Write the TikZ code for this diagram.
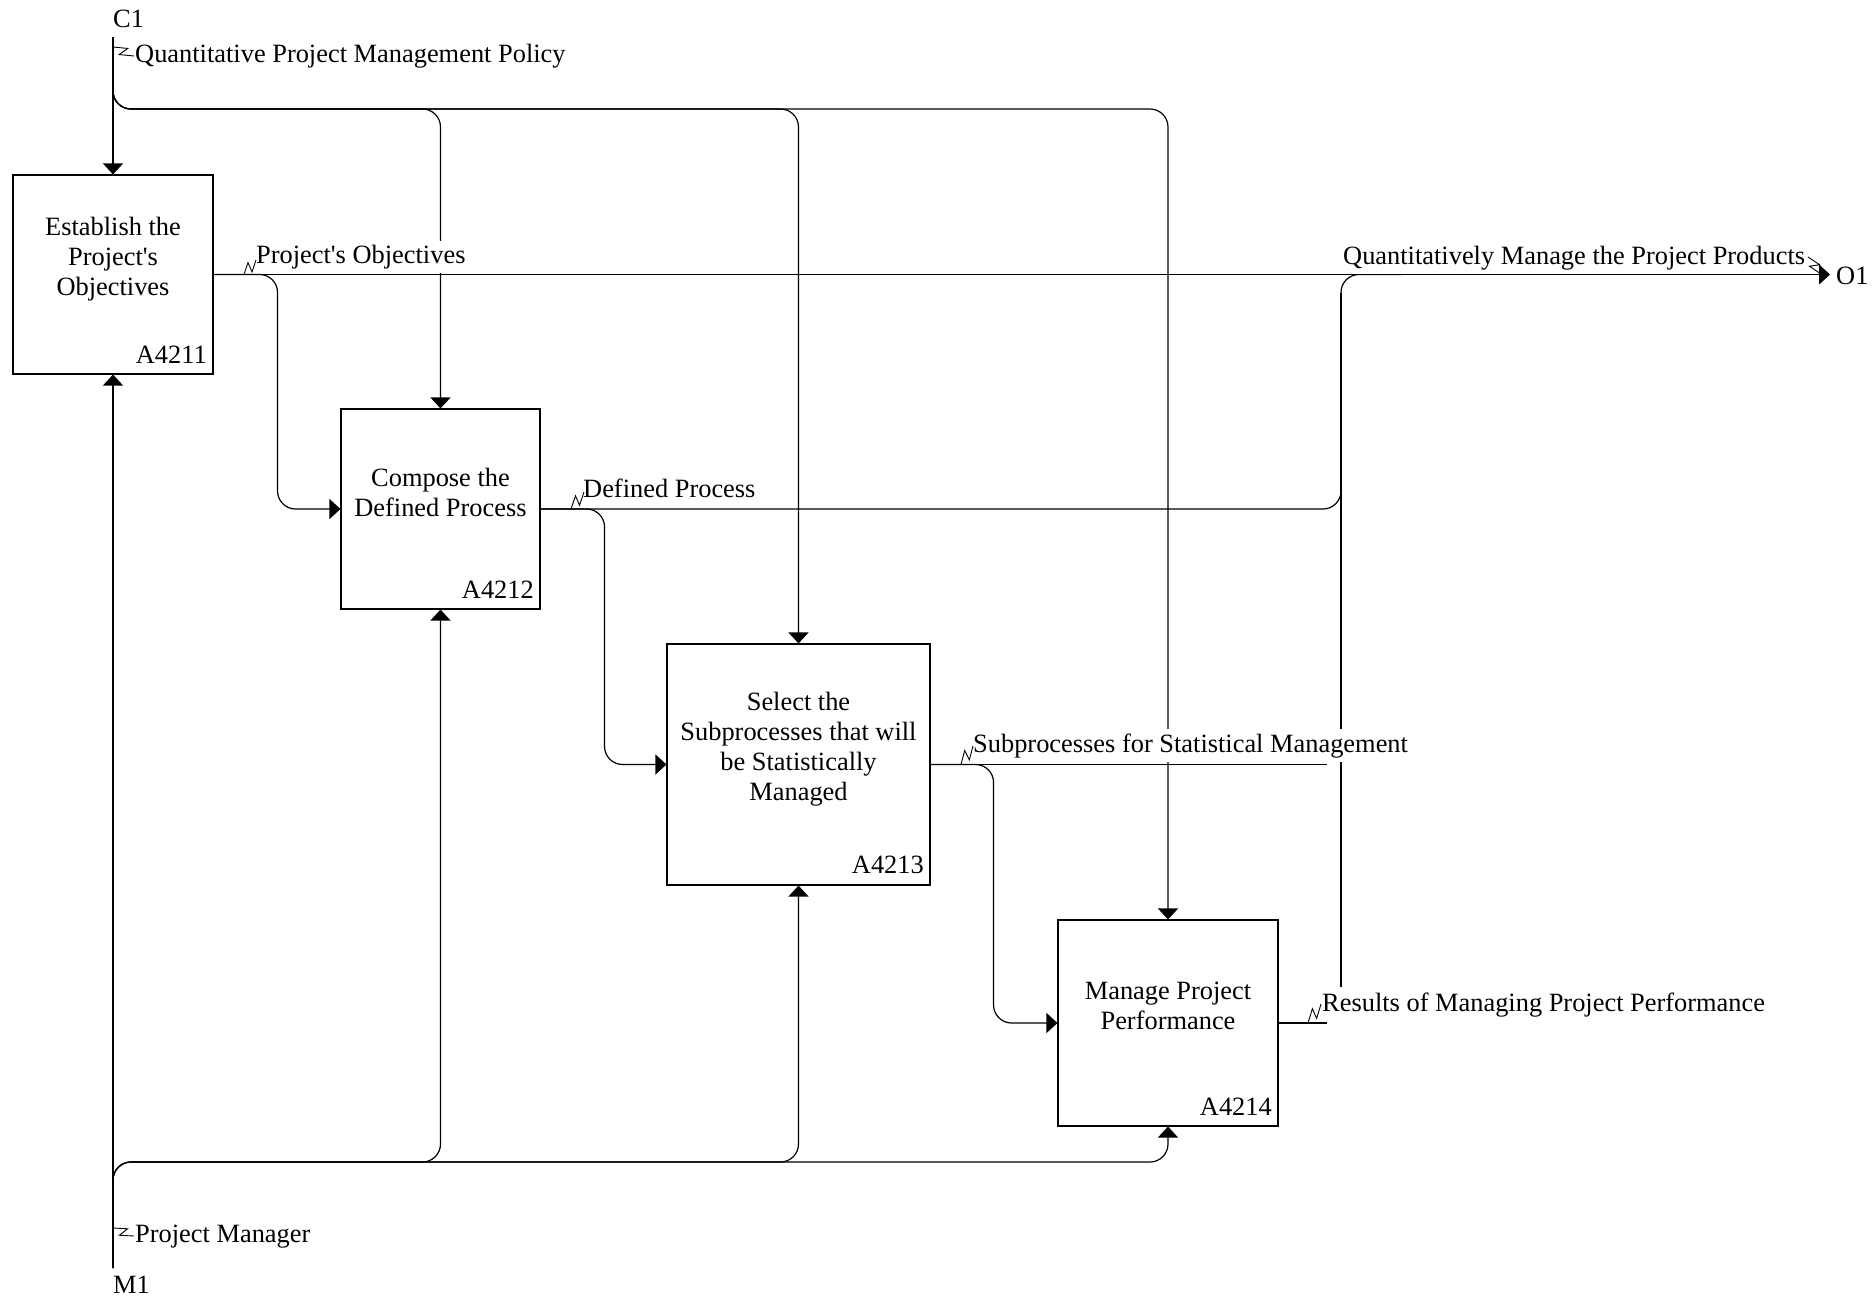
\documentclass[tikz,border=0pt]{standalone}
\usepackage{fontspec}
\setmainfont{Liberation Serif}[Ligatures=TeXOff]
\usetikzlibrary{arrows.meta,calc}
\tikzset{
  txt/.style={font=\fontsize{26.4}{30}\selectfont},
  flbl/.style={txt, fill=white, inner xsep=1pt, inner ysep=4pt, anchor=base west},
  plbl/.style={txt, inner sep=0pt, anchor=base west},
  boxtext/.style={txt, align=center, inner sep=0pt},
  boxid/.style={txt, inner sep=0pt, anchor=base east},
  box/.style={draw, line width=1.1pt, inner sep=0pt},
  conn/.style={draw, line width=1.2pt, rounded corners=18pt},
  arr/.style={-{Triangle[length=11pt,width=20pt]}},
  sq/.style={draw, line width=0.9pt},
}
\newcommand\squig[2]{\draw[sq] (#1) -- ($(#1)!0.62!(#2)!4.5pt!90:(#2)$) -- ($(#1)!0.38!(#2)!4.5pt!-90:(#2)$) -- (#2);}
\begin{document}
\begin{tikzpicture}[x=1pt,y=-1pt]
\useasboundingbox (0,0) rectangle (1875,1296);
% boxes
\node[box, minimum width=200pt, minimum height=199pt] (b1) at (113,274.5) {};
\node[box, minimum width=199pt, minimum height=200pt] (b2) at (440.5,509) {};
\node[box, minimum width=263pt, minimum height=241pt] (b3) at (798.5,764.5) {};
\node[box, minimum width=220pt, minimum height=206pt] (b4) at (1168,1023) {};
% coordinates
\coordinate (c1) at (113,37);
\coordinate (cb) at (113,109);
\coordinate (m1) at (113,1268);
\coordinate (mb) at (113,1162);
\coordinate (o1) at (1830,274.5);
\coordinate (bustop) at (1341,274.5);
\coordinate (busmid) at (1341,292.5);
\coordinate (busbot) at (1341,987);
\coordinate (s3end) at (1327,764.5);
\coordinate (s4end) at (1327,1023);
% controls
\draw[conn,arr] (c1) -- (b1.north);
\draw[conn,arr] (c1) -- (cb) -| (b2.north);
\draw[conn,arr] (c1) -- (cb) -| (b3.north);
\draw[conn,arr] (c1) -- (cb) -| (b4.north);
% mechanisms
\draw[conn,arr] (m1) -- (b1.south);
\draw[conn,arr] (m1) -- (mb) -| (b2.south);
\draw[conn,arr] (m1) -- (mb) -| (b3.south);
\draw[conn,arr] (m1) -- (mb) -| (b4.south);
% outputs / inputs
\draw[conn,arr] (b1.east) -- (o1);
\draw[conn,arr] (b1.east) -- ++(64,0) |- (b2.west);
\draw[conn] (b2.east) -| (bustop) -- ++(60,0);
\draw[line width=1.2pt] (busbot) -- (busmid);
\draw[conn,arr] (b2.east) -- ++(64,0) |- (b3.west);
\draw[conn] (b3.east) -- (s3end);
\draw[conn,arr] (b3.east) -- ++(63,0) |- (b4.west);
\draw[conn] (b4.east) -- (s4end);
% box texts
\node[boxtext] (t1) at (113,259) {Establish the\\Project's\\Objectives};
\node[boxtext] (t2) at (440.5,492.5) {Compose the\\Defined Process};
\node[boxtext] (t3) at (798.5,749) {Select the\\Subprocesses that will\\be Statistically\\Managed};
\node[boxtext] (t4) at (1168,1006) {Manage Project\\Performance};
\node[boxid] (i1) at (207,363) {A4211};
\node[boxid] (i2) at (534,598) {A4212};
\node[boxid] (i3) at (924,873) {A4213};
\node[boxid] (i4) at (1272,1115) {A4214};
% labels
\node[plbl] (lc1) at (113,27) {C1};
\node[plbl] (lm1) at (113,1293) {M1};
\node[plbl] (lo1) at (1836,284) {O1};
\node[flbl] (lq) at (134,62) {Quantitative Project Management Policy};
\node[flbl] (lpo) at (255,263) {Project's Objectives};
\node[flbl] (lqm) at (1342,264) {Quantitatively Manage the Project Products};
\node[flbl] (ldp) at (582,497) {Defined Process};
\node[flbl] (lsp) at (972,752) {Subprocesses for Statistical Management};
\node[flbl] (lrm) at (1321,1011) {Results of Managing Project Performance};
\node[flbl] (lpm) at (134,1242) {Project Manager};
% squiggles
\squig{113,47}{134,56}
\squig{244,274.5}{256,260}
\squig{1808,257}{1821,274}
\squig{571,509}{584,492}
\squig{961,764.5}{973,746}
\squig{1308,1023}{1321,1004}
\squig{113,1228}{134,1236}
\end{tikzpicture}
\end{document}
